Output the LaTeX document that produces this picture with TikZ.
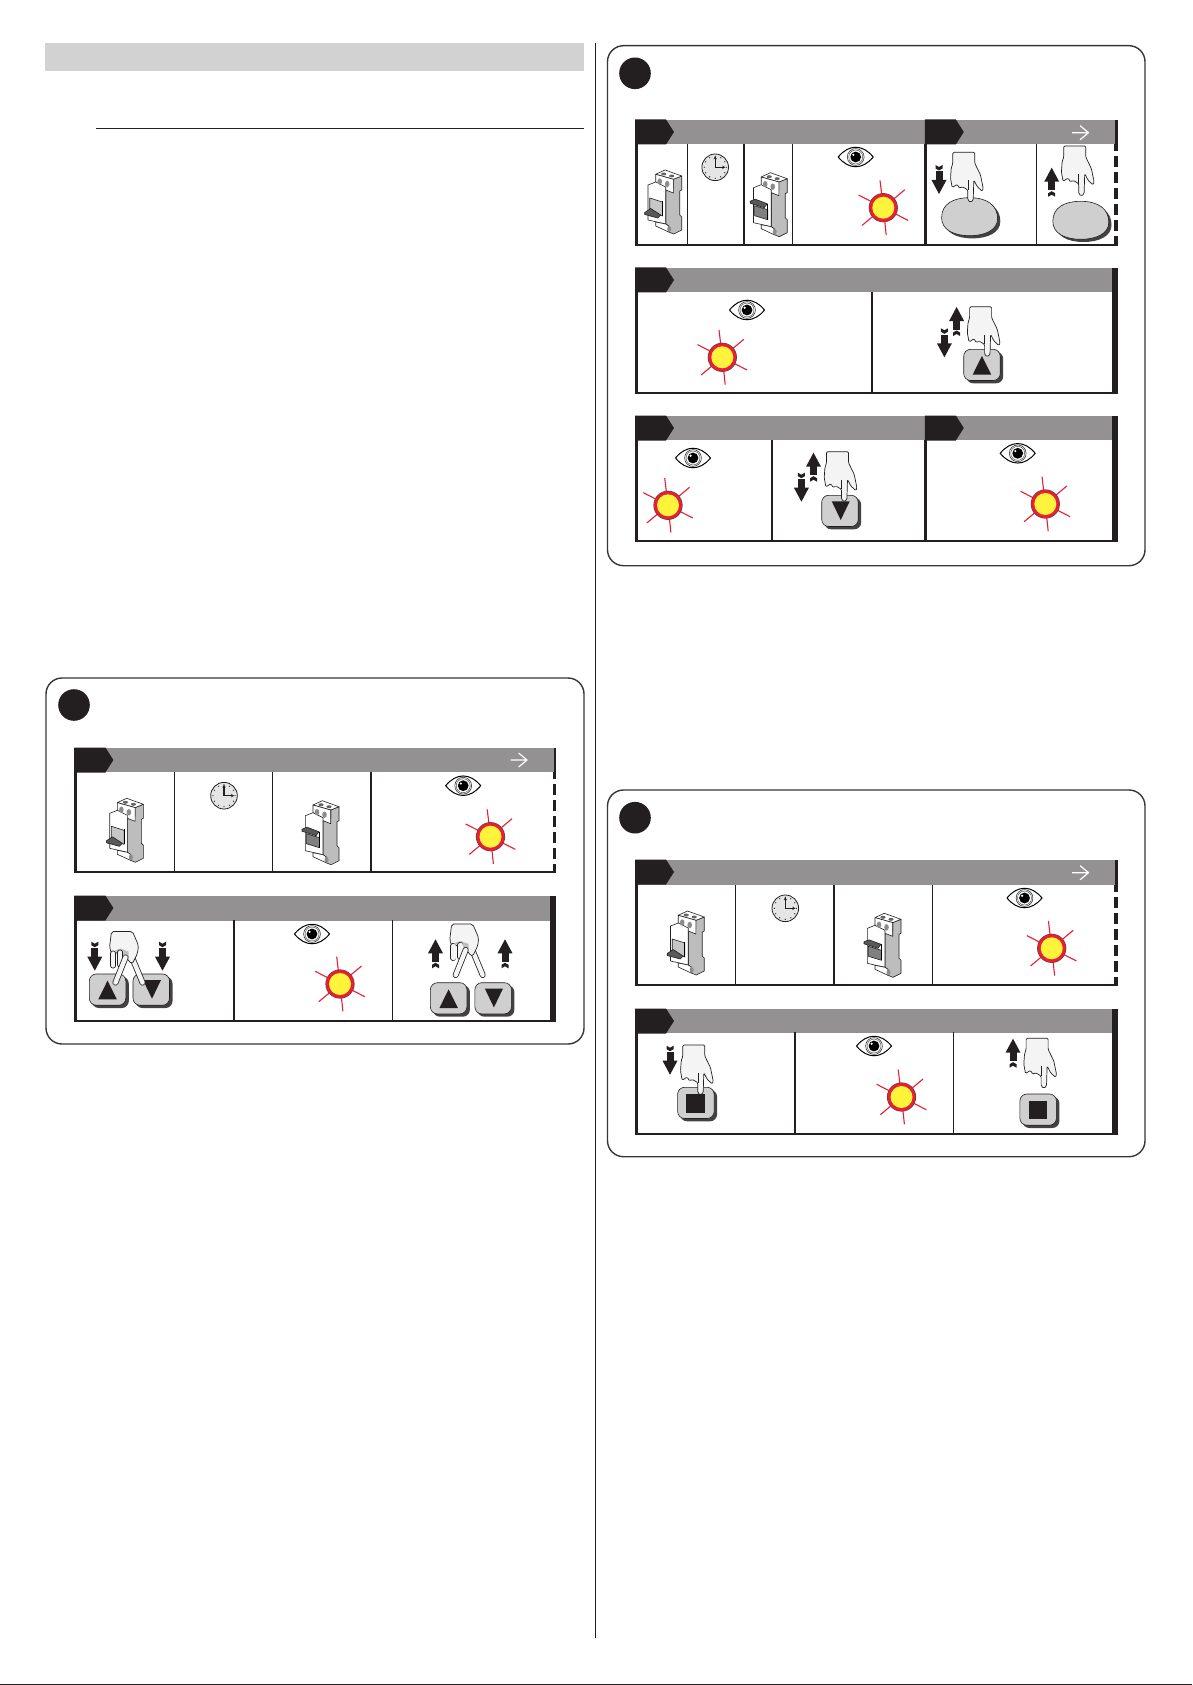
\documentclass[tikz,border=0pt]{standalone}
\usepackage{amsmath}
\usepackage{amssymb}
\usetikzlibrary{arrows.meta, calc}

\definecolor{inkcol}{HTML}{231F20}
\definecolor{barcol}{HTML}{939192}
\definecolor{bandcol}{HTML}{D2D2D2}
\definecolor{keycol}{HTML}{CFCFCF}
\definecolor{sidecol}{HTML}{BDBDBD}
\definecolor{skincol}{HTML}{F4F4F4}
\definecolor{raycol}{HTML}{ED1C33}
\definecolor{lampcol}{HTML}{FFF33C}

% one step: grey bar, left and bottom rules
\newcommand{\stepframe}[5]{%
  \fill[barcol] (#1,#3) rectangle (#2,#4);
  \fill[inkcol] (#1,#3) rectangle ({#1+3},#5);
  \fill[inkcol] (#1,{#5-2}) rectangle (#2,#5);
}
% the breaker without its lever
\newcommand{\breakerbody}{%
  \draw[thinline,fill=sidecol] (28.7,9.3) -- (37,6) -- (37,20) -- (35,21) -- (35,45) -- (37,47) -- (37,60) -- (29,64) -- (24,62) -- (24,56) -- (21,54) -- (21,21) -- (28.7,18) -- cycle;
  \draw[thinline,fill=white] (11,4.3) -- (20.3,0) -- (37,6) -- (28.7,9.3) -- cycle;
  \draw[thinline,fill=white] (11,4.3) -- (28.7,9.3) -- (28.7,23) -- (11,16) -- cycle;
  \draw[thinline,fill=white] (3.3,15) -- (11,12) -- (21,17) -- (21,54) -- (3.3,50) -- cycle;
  \draw[thinline,fill=white] (11,52) -- (21,54) -- (24,56) -- (24,62) -- (11,56) -- cycle;
  \foreach \px/\py in {19/4,27/6} \fill[black!60] (\px,\py) ellipse (2.6 and 1.5);
  \foreach \px/\py in {15/11.5,22.5/14} \fill[black!45] (\px,\py) ellipse (2.3 and 3.2);
  \fill[black!45] (24.5,59) ellipse (2 and 3);
}

\tikzset{
  stepbox/.style={draw=inkcol!90, line width=1.4pt, rounded corners=16pt},
  thinline/.style={draw=inkcol, line width=.6pt, line join=round},
  handline/.style={draw=inkcol, line width=.7pt, fill=skincol, line join=round},
  fingerline/.style={line cap=round, draw=inkcol, line width=6pt},
  fingerfill/.style={line cap=round, draw=skincol, line width=4.4pt},
  steptab/.pic={\fill[inkcol] (0,-.5) -- (31,-.5) -- (39,12) -- (31,24.5) -- (0,24.5) -- cycle;},
  whitearrow/.pic={\draw[white, line width=1.2pt, line join=round] (-16.5,0) -- (0,0) (-8.4,-7) -- (0,0) -- (-8.4,7);},
  lamp/.pic={
    \foreach \dx/\dy in {-3.3/-27.3,21.5/-18,24.8/12.7,2.9/27.3,-21.2/17.7,-24.8/-12.7}
      \draw[raycol, line width=1.1pt] ({.5*\dx},{.5*\dy}) -- (\dx,\dy);
    \fill[inkcol!80] (0,0) circle (14.6);
    \fill[raycol] (0,0) circle (14);
    \fill[lampcol] (0,0) circle (11);
  },
  eye/.pic={
    \draw[black, line width=1pt, fill=white, line join=miter] (-17.5,0) .. controls (-7,-13) and (7,-13) .. (17.5,0) .. controls (7,13) and (-7,13) .. cycle;
    \draw[black!80, line width=.6pt] (0,0) circle (8.4);
    \draw[black!80, line width=.4pt] (0,0) circle (7);
    \fill[black] (0,0) circle (5.4);
    \fill[white] (-2.4,-2.2) circle (1.2);
  },
  clock/.pic={
    \draw[inkcol, line width=.8pt, fill=black!10] (0,0) circle (13.3);
    \foreach \a in {0,30,...,330} \fill[inkcol] (\a:11) circle (.65);
    \draw[inkcol, line width=1.4pt, -{Stealth[length=3pt,width=3.4pt]}] (0,0) -- (0,-11);
    \draw[inkcol, line width=1.4pt, -{Stealth[length=3pt,width=3.4pt]}] (0,0) -- (10,0);
  },
  breaker off/.pic={
    \breakerbody
    \draw[thinline, fill=black!22] (5,28) -- (17.7,32) -- (17.7,46) -- (5,42) -- cycle;
    \draw[black, line width=.9pt] (17.7,31) -- (17.7,46);
    \draw[thinline, fill=black!65] (0,42.5) -- (6,38.5) -- (16,45) -- (13,48) -- (0,44.5) -- cycle;
  },
  breaker on/.pic={
    \breakerbody
    \draw[thinline, fill=black!50] (4.4,33) -- (17.5,37) -- (17.5,47) -- (4.4,43) -- cycle;
    \draw[black, line width=.9pt] (17.5,31) -- (17.5,47);
    \draw[thinline, fill=black!65] (0,28.5) -- (5,26.5) -- (17,31) -- (14,35) -- (0,30.5) -- cycle;
  },
  keybase/.pic={
    \fill[inkcol!85, rounded corners=7pt] (2.5,2.5) rectangle (39.5,34);
    \draw[thinline, fill=keycol, rounded corners=7pt] (0,0) rectangle (36.5,31.2);
  },
  key up/.pic={
    \pic {keybase};
    \fill[inkcol] (9,25.3) -- (18.2,6.7) -- (27.5,25.3) -- cycle;
  },
  key down/.pic={
    \pic {keybase};
    \fill[inkcol] (10,6) -- (28,6) -- (19,24.7) -- cycle;
  },
  key stop/.pic={
    \pic {keybase};
    \fill[inkcol] (8.6,7) rectangle (27.5,25.3);
  },
  key oval/.pic={
    \fill[inkcol!85, shift={(2.7,2.7)}] (0,20) .. controls (0,6) and (12,0) .. (28,0) .. controls (46,0) and (56,8) .. (56,21) .. controls (56,32) and (44,38) .. (28,38) .. controls (12,38) and (0,32) .. cycle;
    \draw[thinline, fill=keycol] (0,20) .. controls (0,6) and (12,0) .. (28,0) .. controls (46,0) and (56,8) .. (56,21) .. controls (56,32) and (44,38) .. (28,38) .. controls (12,38) and (0,32) .. cycle;
  },
  pressarrow/.pic={
    \fill[inkcol] (-7.5,15) -- (7.5,15) -- (0,29) -- cycle;
    \fill[inkcol] (-3.5,6.5) rectangle (3.5,15.5);
    \fill[inkcol] (-3.5,0) -- (0,2) -- (3.5,0) -- (3.5,3.5) -- (0,5.5) -- (-3.5,3.5) -- cycle;
  },
  hand point/.pic={
    \draw[handline, rounded corners=1.2pt] (2.3,0) -- (24.3,0) -- (24.3,11) -- (30,22.7) -- (32.7,36) -- (31.7,39) -- (26.7,34.3) -- (23.3,27.7) -- (22.7,47.7) -- (20,50) -- (17.3,47.7) -- (17.3,37.7) -- (11.7,34.3) -- (9,36) -- (6.7,32) -- (1.7,35.3) -- (0,26) -- (.7,16) -- (2.3,11) -- cycle;
    \draw[inkcol, line width=.6pt] (17.3,37.7) -- (17.3,28);
  },
  hand two/.pic={
    \draw[fingerline] (23,27) -- (33,51);
    \draw[fingerfill] (23,27) -- (33,51);
    \draw[handline, rounded corners=2pt] (2,0) -- (23,0) -- (29,14) -- (28,22) -- (23,32) -- (19,30) -- (16,22) -- (9,20) -- (3,24) -- (0,16) -- cycle;
    \fill[black!25] (5,19) -- (11,17) -- (19,20) -- (19,27) -- (12,24) -- cycle;
    \draw[fingerline] (3.7,22) -- (3.7,34);
    \draw[fingerfill] (3.7,22) -- (3.7,34);
    \draw[fingerline] (10.7,21) -- (10.7,33);
    \draw[fingerfill] (10.7,21) -- (10.7,33);
    \draw[fingerline] (16,26) -- (6,51);
    \draw[fingerfill] (16,26) -- (6,51);
  },
}

\begin{document}
\begin{tikzpicture}[x=1pt, y=-1pt]
  \useasboundingbox (0,0) rectangle (1192,1685);
  \fill[white] (0,0) rectangle (1192,1685);
  % page furniture
  \fill[bandcol] (45,43) rectangle (584,71);
  \fill[inkcol] (96,128) rectangle (584,129);
  \fill[inkcol] (595,43) rectangle (596,1638);
  \fill[inkcol] (0,1684) rectangle (1192,1685);
  % the three boxes and their discs
  \draw[stepbox] (46,678) rectangle (584,1044);
  \draw[stepbox] (607.5,45.7) rectangle (1145,565.7);
  \draw[stepbox] (607.5,790) rectangle (1145,1156.7);
  \foreach \x/\y in {74/705,635/73.3,635/817.7} \fill[inkcol] (\x,\y) circle (15.8);
  % steps
  \stepframe{74.4}{556}{748}{772}{873.3}
  \stepframe{74.4}{556}{896}{920.7}{1021.7}
  \stepframe{635}{1117.5}{120}{144}{245.7}
  \stepframe{635}{1117.5}{268}{292}{394}
  \stepframe{635}{1117.5}{416}{440}{541.7}
  \stepframe{635}{1117.5}{860}{885}{985.7}
  \stepframe{635}{1117.5}{1009}{1032.7}{1135}
  % solid right ends
  \foreach \xb/\ya/\yc in {556/896/1021.7,1117.5/268/394,1117.5/416/541.7,1117.5/1009/1135}
    \fill[inkcol] ({\xb-5.8},\ya) rectangle (\xb,\yc);
  % dashed right ends
  \foreach \xb/\ya/\yb/\yc in {556/748/772/873.3,1117.5/120/144/245.7,1117.5/860/885/985.7} {
    \fill[inkcol] ({\xb-2.4},\ya) rectangle (\xb,\yb);
    \draw[inkcol, line width=3.2pt, dash pattern=on 11pt off 5pt, dash phase=4pt] ({\xb-1.6},\yb) -- ({\xb-1.6},\yc);
  }
  \foreach \x/\y in {74.4/748,74.4/896,635/120,924.8/120,635/268,635/416,924.8/416,635/860,635/1009}
    \pic at (\x,\y) {steptab};
  % cell rules
  \foreach \x/\ya/\yc/\w in {174.5/772/873/1,272.8/772/873/1,371/772/873/2,
      234.2/920/1022/2,392.6/920/1022/1.5,
      687.3/144/245/1.3,743.8/144/245/2,792.8/144/245/1,925.8/144/245/3,1036.5/144/245/1,
      871.7/292/394/2,
      772/440/541/1.5,925.8/440/541/3,
      735.5/885/985/1,834.3/885/985/2,932.6/885/985/1,
      795.3/1032/1135/2,953.6/1032/1135/1.5}
    \draw[inkcol, line width=\w pt] (\x,\ya) -- (\x,\yc);
  % eyes and lamps
  \foreach \ex/\ey/\lx/\ly in {463.2/785.7/490.5/836.7,312/934/340/984,855.7/157/883.3/207.7,
      747/310/722.3/357.3,693/458/668/505.3,1017.7/453.3/1045.3/504,
      1024.5/898/1051.7/948.3,874/1046/901.5/1097} {
    \pic at (\ex,\ey) {eye};
    \pic at (\lx,\ly) {lamp};
  }
  % clocks
  \foreach \x/\y in {224/795.7,715.2/167.3,785.3/908.3} \pic at (\x,\y) {clock};
  % breakers
  \foreach \x/\y in {106.4/798.3,644.7/170,667.2/911} \pic at (\x,\y) {breaker off};
  \foreach \x/\y in {302/800.7,750.2/172.7,864/913.3} \pic at (\x,\y) {breaker on};
  % white arrows
  \foreach \x/\y in {527/760,1088.5/132.7,1088.5/872.7} \pic at (\x,\y) {whitearrow};
  % keys
  \pic at (89.3,974) {key up};
  \pic at (133,974) {key down};
  \pic at (430.4,982.7) {key up};
  \pic at (474.9,982.7) {key down};
  \pic at (963.7,349.3) {key up};
  \pic at (821.7,495.3) {key down};
  \pic at (677.6,1087.3) {key stop};
  \pic at (1019.9,1094) {key stop};
  \pic at (941.6,197.7) {key oval};
  \pic at (1052.8,201.3) {key oval};
  % hands
  \pic at (109.5,931.5) {hand two};
  \pic at (449.7,924) {hand two};
  \pic at (950.5,152.3) {hand point};
  \pic at (1061.4,146) {hand point};
  \pic at (967.3,306.7) {hand point};
  \pic at (824.2,451.7) {hand point};
  \pic at (680.5,1045) {hand point};
  \pic at (1023.8,1038.3) {hand point};
  % press and lift arrows
  \foreach \x/\y in {94.8/941.7,162.5/941.7,939/165,944.4/328.3,801.4/472.7,670/1045.7}
    \pic at (\x,\y) {pressarrow};
  \foreach \x/\y in {435.5/968.3,505/968.3,1051.7/196.7,956.6/336,813.5/481.7,1013/1067.7}
    \pic[yscale=-1] at (\x,\y) {pressarrow};
\end{tikzpicture}
\end{document}
